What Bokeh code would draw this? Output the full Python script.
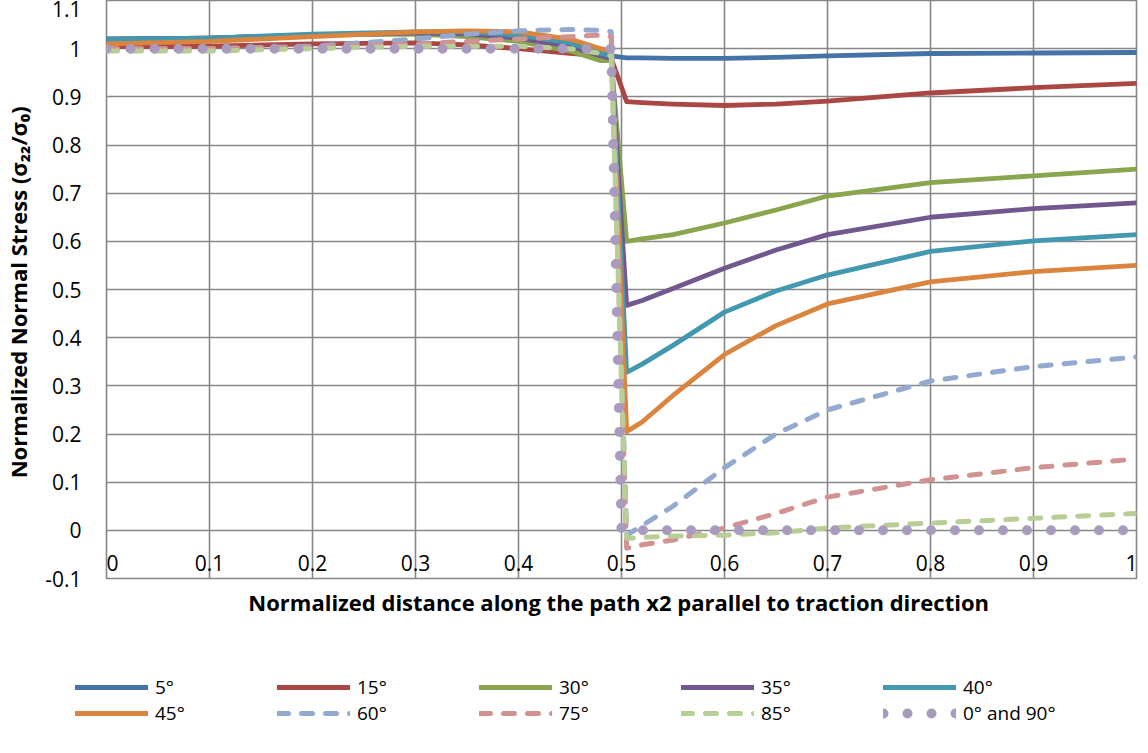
from bokeh.plotting import figure
from bokeh.layouts import column, row
from bokeh.models import (Range1d, FixedTicker, CustomJSTickFormatter, Legend, LegendItem,
                          LabelSet, ColumnDataSource, Spacer, LinearAxis)
from bokeh.core.properties import value
from bokeh.embed import file_html
from bokeh.resources import INLINE

# ---------------- data ----------------
x_left = [0.0, 0.1, 0.2, 0.3, 0.35, 0.4, 0.45, 0.48, 0.49]
x_right = [0.505, 0.52, 0.55, 0.6, 0.65, 0.7, 0.8, 0.9, 1.0]

s5_left = [1.02, 1.022, 1.028, 1.032, 1.03, 1.025, 1.005, 0.99, 0.985]
s5_right = [0.981, 0.981, 0.98, 0.98, 0.982, 0.985, 0.99, 0.991, 0.992]
s15_left = [1.005, 1.005, 1.01, 1.012, 1.008, 1.0, 0.99, 0.985, 0.98]
s15_right = [0.89, 0.888, 0.885, 0.882, 0.885, 0.891, 0.908, 0.919, 0.928]
s30_left = [1.02, 1.022, 1.028, 1.03, 1.025, 1.015, 0.995, 0.975, 0.975]
s30_right = [0.6, 0.605, 0.614, 0.638, 0.665, 0.694, 0.722, 0.736, 0.75]
s35_left = [1.02, 1.022, 1.028, 1.033, 1.03, 1.022, 1.005, 0.985, 0.98]
s35_right = [0.467, 0.477, 0.502, 0.544, 0.582, 0.614, 0.65, 0.668, 0.68]
s40_left = [1.02, 1.022, 1.03, 1.035, 1.035, 1.028, 1.012, 0.99, 0.985]
s40_right = [0.328, 0.345, 0.384, 0.453, 0.497, 0.53, 0.579, 0.601, 0.614]
s45_left = [1.01, 1.015, 1.025, 1.035, 1.037, 1.035, 1.02, 1.0, 0.995]
s45_right = [0.205, 0.225, 0.28, 0.365, 0.425, 0.47, 0.516, 0.537, 0.55]
s60_left = [1.0, 1.0, 1.005, 1.02, 1.03, 1.037, 1.04, 1.038, 1.035]
s60_right = [-0.01, 0.01, 0.05, 0.13, 0.2, 0.25, 0.31, 0.34, 0.36]
s75_left = [1.0, 1.0, 1.003, 1.01, 1.015, 1.02, 1.025, 1.028, 1.025]
s75_right = [-0.037, -0.03, -0.02, 0.005, 0.035, 0.069, 0.105, 0.13, 0.148]
s85_left = [0.995, 0.995, 1.0, 1.005, 1.005, 1.005, 1.0, 0.99, 0.985]
s85_right = [-0.017, -0.015, -0.012, -0.01, -0.005, 0.005, 0.015, 0.025, 0.035]
x_0_90 = [0.0, 0.49, 0.5, 1.0]
s_0_90 = [1.0, 1.0, 0.0, 0.0]

x_ticks = [0.0, 0.1, 0.2, 0.3, 0.4, 0.5, 0.6, 0.7, 0.8, 0.9, 1.0]
x_tick_labels = ["0", "0.1", "0.2", "0.3", "0.4", "0.5", "0.6", "0.7", "0.8", "0.9", "1"]
y_ticks = [-0.1, 0.0, 0.1, 0.2, 0.3, 0.4, 0.5, 0.6, 0.7, 0.8, 0.9, 1.0, 1.1]

series = [
    ("5°", s5_left + s5_right, "#4572A7", "solid"),
    ("15°", s15_left + s15_right, "#AA4643", "solid"),
    ("30°", s30_left + s30_right, "#89A54E", "solid"),
    ("35°", s35_left + s35_right, "#71588F", "solid"),
    ("40°", s40_left + s40_right, "#4198AF", "solid"),
    ("45°", s45_left + s45_right, "#DB843D", "solid"),
    ("60°", s60_left + s60_right, "#93A9CF", "dash"),
    ("75°", s75_left + s75_right, "#D19392", "dash"),
    ("85°", s85_left + s85_right, "#B9CD96", "dash"),
]

FONT = "Open Sans"
GRID = "#878787"

p = figure(frame_width=1030, frame_height=578,
           min_border_left=100, min_border_right=2, min_border_top=0, min_border_bottom=96,
           x_range=Range1d(0, 1), y_range=Range1d(-0.1, 1.1),
           output_backend="svg", toolbar_location=None)
p.background_fill_color = "white"
p.border_fill_color = "white"
p.outline_line_color = GRID
p.outline_line_width = 1.6

p.xgrid.ticker = FixedTicker(ticks=x_ticks)
p.ygrid.ticker = FixedTicker(ticks=y_ticks)
for g in (p.xgrid, p.ygrid):
    g.grid_line_color = GRID
    g.grid_line_width = 1.6

# y axis
p.yaxis.ticker = FixedTicker(ticks=y_ticks)
p.yaxis.formatter = CustomJSTickFormatter(code="return tick.toFixed(1).replace(/\\.0$/, '');")
p.yaxis.major_label_text_font = FONT
p.yaxis.major_label_text_font_size = "21px"
p.yaxis.major_label_text_color = "black"
p.yaxis.major_label_standoff = 25
p.yaxis.major_tick_in = 0
p.yaxis.major_tick_out = 0
p.yaxis.minor_tick_in = 0
p.yaxis.minor_tick_out = 0
p.yaxis.axis_line_color = None
p.yaxis.axis_label = "Normalized Normal Stress  (σ₂₂/σ₀)"
p.yaxis.axis_label_text_font = FONT
p.yaxis.axis_label_text_font_size = "22px"
p.yaxis.axis_label_text_font_style = "bold"
p.yaxis.axis_label_text_color = "black"
p.yaxis.axis_label_standoff = 9

# bottom x axis: only its title; tick labels sit at y = 0 like Excel's crossing axis
xa = p.below[0]
xa.ticker = FixedTicker(ticks=[])
xa.major_label_standoff = 0
xa.major_tick_in = 0
xa.major_tick_out = 0
xa.minor_tick_in = 0
xa.minor_tick_out = 0
xa.axis_line_color = None
xa.axis_label = "Normalized distance along the path  x2 parallel to traction direction"
xa.axis_label_text_font = FONT
xa.axis_label_text_font_size = "22px"
xa.axis_label_text_font_style = "bold"
xa.axis_label_text_color = "black"
xa.axis_label_standoff = 8

# thin empty band above the frame so the top tick label is not cut
top_band = LinearAxis(ticker=FixedTicker(ticks=[]), axis_line_color=None, axis_label=None,
                      major_tick_in=0, major_tick_out=7, minor_tick_in=0, minor_tick_out=0,
                      major_label_standoff=0,
                      major_tick_line_color=None, minor_tick_line_color=None)
p.add_layout(top_band, "above")

x_nudge = [6] + [0] * (len(x_ticks) - 2) + [-5]
tick_src = ColumnDataSource(dict(x=x_ticks, y=[0.0] * len(x_ticks), t=x_tick_labels, xo=x_nudge))
try:
    tick_labels = LabelSet(x="x", y="y", text="t", source=tick_src, y_offset=-33, x_offset="xo",
                           text_align="center", text_baseline="middle",
                           text_font=value(FONT), text_font_size="21px", text_color="black")
except Exception:
    tick_labels = LabelSet(x="x", y="y", text="t", source=tick_src, y_offset=-33,
                           text_align="center", text_baseline="middle",
                           text_font=value(FONT), text_font_size="21px", text_color="black")
p.add_layout(tick_labels)

# legend lives in a thin companion figure under the chart; its proxy lines use the
# same data but a y range where they stay out of view
LEG_SHIFT = 75
q = figure(frame_width=1132 - LEG_SHIFT, frame_height=49,
           min_border_left=0, min_border_right=0, min_border_top=0, min_border_bottom=0,
           x_range=Range1d(0, 1), y_range=Range1d(10, 11),
           x_axis_type=None, y_axis_type=None,
           output_backend="svg", toolbar_location=None)
q.outline_line_color = None
q.background_fill_color = "white"
q.border_fill_color = "white"
q.grid.visible = False

items = []
x_all = x_left + x_right
for name, ys, col, style in series:
    if style == "solid":
        kw = dict(line_color=col, line_width=4.8, line_join="round", line_cap="round")
    else:
        kw = dict(line_color=col, line_width=5, line_dash="11 13", line_join="round", line_cap="round")
    p.line(x_all, ys, **kw)
    proxy = q.line(x_all, ys, **kw)
    items.append(LegendItem(label=name, renderers=[proxy]))

kw = dict(line_color="#A99BBD", line_width=10, line_dash="0 24", line_cap="round", line_join="round")
p.line(x_0_90, s_0_90, **kw)
proxy = q.line(x_0_90, s_0_90, **kw)
items.append(LegendItem(label="0° and 90°", renderers=[proxy]))

legend = Legend(items=items, orientation="horizontal", ncols=5,
                location="top_left",
                label_text_font=FONT, label_text_font_size="19px", label_text_color="black",
                glyph_width=73, glyph_height=16, label_standoff=7, label_width=122,
                label_height=16, spacing=0, padding=0, margin=0,
                border_line_color=None, background_fill_alpha=0)
q.add_layout(legend)

page = column(p, row(Spacer(width=LEG_SHIFT, height=49), q))
open("out.html", "w").write(file_html(page, INLINE))
